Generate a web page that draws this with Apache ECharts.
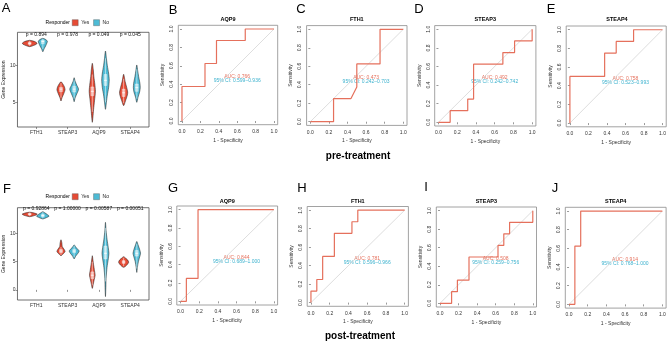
<!DOCTYPE html>
<html>
<head>
<meta charset="utf-8">
<script src="https://cdn.jsdelivr.net/npm/echarts@6/dist/echarts.min.js"></script>
<style>
  html, body { margin: 0; padding: 0; background: #fff; }
  #chart { width: 669px; height: 343px; }
</style>
</head>
<body>
<div id="chart"></div>
<script>
// ---- data ----
const genes = ["FTH1", "STEAP3", "AQP9", "STEAP4"];
const rocGenes = ["AQP9", "FTH1", "STEAP3", "STEAP4"];

// violin outlines per gene: [expression, half width (category units)]
const preYesViolins = [
  [[12.6, 0], [12.75, 0.12], [12.95, 0.22], [13.1, 0.23], [13.3, 0.16], [13.47, 0]],
  [[5.18, 0], [5.6, 0.03], [6.2, 0.09], [6.7, 0.13], [7.1, 0.11], [7.5, 0.06], [7.81, 0]],
  [[2.27, 0], [3.0, 0.02], [4.0, 0.04], [5.2, 0.07], [6.5, 0.1], [7.5, 0.08], [8.5, 0.05], [9.5, 0.03], [10.33, 0]],
  [[4.54, 0], [5.2, 0.06], [6.0, 0.12], [6.4, 0.13], [7.0, 0.1], [7.8, 0.05], [8.83, 0]],
];
const preNoViolins = [
  [[11.9, 0], [12.3, 0.04], [12.7, 0.09], [13.1, 0.13], [13.35, 0.145], [13.55, 0.1], [13.74, 0]],
  [[5.08, 0], [5.6, 0.03], [6.2, 0.09], [6.8, 0.14], [7.3, 0.09], [7.9, 0.03], [8.36, 0]],
  [[4.04, 0], [5.0, 0.03], [6.0, 0.06], [7.0, 0.1], [8.05, 0.12], [9.0, 0.1], [10.0, 0.06], [11.0, 0.03], [12.0, 0]],
  [[5.0, 0], [5.7, 0.04], [6.4, 0.09], [7.0, 0.11], [7.6, 0.1], [8.5, 0.06], [9.3, 0.03], [10.1, 0]],
];
const postYesViolins = [
  [[13.0, 0], [13.2, 0.15], [13.45, 0.24], [13.65, 0.15], [13.8, 0]],
  [[6.07, 0], [6.4, 0.07], [6.8, 0.13], [7.2, 0.1], [7.7, 0.04], [8.3, 0.03], [8.9, 0]],
  [[0.26, 0], [1.0, 0.03], [1.8, 0.06], [2.6, 0.09], [3.4, 0.07], [4.5, 0.04], [5.3, 0.02], [6.07, 0]],
  [[4.0, 0], [4.4, 0.1], [4.9, 0.16], [5.3, 0.13], [5.6, 0.07], [5.9, 0]],
];
const postNoViolins = [
  [[12.6, 0], [12.85, 0.12], [13.1, 0.2], [13.4, 0.14], [13.7, 0.06], [13.9, 0]],
  [[5.5, 0], [6.0, 0.05], [6.5, 0.12], [6.9, 0.16], [7.3, 0.1], [7.7, 0.04], [8.0, 0]],
  [[-1.2, 0], [0, 0.01], [2, 0.02], [4, 0.05], [5.5, 0.09], [6.5, 0.11], [7.5, 0.09], [9, 0.05], [10.5, 0.02], [12.0, 0]],
  [[3.1, 0], [4.0, 0.02], [5.0, 0.05], [6.0, 0.1], [6.5, 0.12], [7.2, 0.09], [8.0, 0.04], [8.6, 0]],
];

// inner boxplots: [q1, median, q3, lower whisker, upper whisker]
const preYesBoxes = [[12.9, 13.05, 13.2, 12.7, 13.4], [6.45, 6.8, 7.05, 5.6, 7.6], [5.9, 6.5, 7.1, 3.7, 8.8], [5.8, 6.3, 6.8, 4.9, 8.2]];
const preNoBoxes = [[13.0, 13.3, 13.5, 12.3, 13.7], [6.4, 6.8, 7.2, 5.5, 8.0], [7.3, 8.0, 8.8, 5.0, 11.0], [6.5, 7.0, 7.5, 5.5, 9.5]];
const postYesBoxes = [[13.3, 13.45, 13.6, 13.1, 13.75], [6.6, 6.9, 7.2, 6.2, 7.6], [2.0, 2.6, 3.2, 0.8, 5.0], [4.7, 4.95, 5.2, 4.2, 5.7]];
const postNoBoxes = [[13.0, 13.2, 13.4, 12.7, 13.8], [6.6, 6.9, 7.2, 5.8, 7.9], [5.5, 6.5, 7.8, 1.5, 11.0], [6.0, 6.5, 7.0, 3.8, 8.2]];

const prePValues = ["p = 0.894", "p = 0.978", "p = 0.049", "p = 0.045"];
const postPValues = ["p = 0.92864", "p = 1.00000", "p = 0.00587", "p = 0.00051"];

// ROC curves: [1 - specificity, sensitivity]
const rocPreAQP9 = [[0, 0], [0, 0.375], [0.25, 0.375], [0.25, 0.625], [0.375, 0.625], [0.375, 0.875], [0.6875, 0.875], [0.6875, 1], [1, 1]];
const rocPreFTH1 = [[0, 0], [0.25, 0], [0.25, 0.25], [0.4375, 0.25], [0.5, 0.375], [0.5, 0.625], [0.75, 0.625], [0.75, 1], [1, 1]];
const rocPreSTEAP3 = [[0, 0], [0.125, 0], [0.125, 0.125], [0.3125, 0.125], [0.3125, 0.25], [0.375, 0.25], [0.375, 0.625], [0.6875, 0.625], [0.6875, 0.75], [0.8125, 0.75], [0.8125, 0.875], [1, 0.875], [1, 1]];
const rocPreSTEAP4 = [[0, 0], [0, 0.5], [0.375, 0.5], [0.375, 0.75], [0.5, 0.75], [0.5, 0.875], [0.6875, 0.875], [0.6875, 1], [1, 1]];
const rocPostAQP9 = [[0, 0], [0.0625, 0], [0.0625, 0.25], [0.1875, 0.25], [0.1875, 1], [1, 1]];
const rocPostFTH1 = [[0, 0], [0, 0.125], [0.0625, 0.125], [0.0625, 0.25], [0.125, 0.25], [0.125, 0.5], [0.25, 0.5], [0.25, 0.75], [0.4375, 0.75], [0.4375, 0.875], [0.5, 0.875], [0.5, 1], [1, 1]];
const rocPostSTEAP3 = [[0, 0], [0.125, 0], [0.125, 0.125], [0.1875, 0.125], [0.1875, 0.25], [0.3125, 0.25], [0.3125, 0.5], [0.625, 0.5], [0.625, 0.625], [0.6875, 0.625], [0.6875, 0.75], [0.75, 0.75], [0.75, 0.875], [1, 0.875], [1, 1]];
const rocPostSTEAP4 = [[0, 0], [0.0625, 0], [0.0625, 0.625], [0.125, 0.625], [0.125, 1], [1, 1]];
const diagonal = [[0, 0], [1, 1]];

const preAUC = ["0.766", "0.473", "0.492", "0.758"];
const preCI = ["0.599–0.936", "0.242–0.703", "0.242–0.742", "0.523–0.993"];
const postAUC = ["0.844", "0.781", "0.508", "0.914"];
const postCI = ["0.689–1.000", "0.596–0.966", "0.259–0.756", "0.768–1.000"];

const rocTicks = [0, 0.2, 0.4, 0.6, 0.8, 1.0];

// ---- layout ----
const FONT = '"Liberation Sans", Arial, sans-serif';
const RED = "#E64B35";
const BLUE = "#4DBBD5";
const ROC_RED = "#E5705C";
const CI_BLUE = "#3DB2CE";

const violinGrids = [
  { left: 17, top: 32.3, width: 132, height: 94.7, yMin: 1.63, yMax: 14.56, yTicks: [5, 10], pOffset: 2 },
  { left: 17, top: 207.7, width: 132, height: 92.3, yMin: -1.8, yMax: 14.6, yTicks: [0, 5, 10], pOffset: 1 },
];
const rocGrids = [
  { left: 178.3, top: 25.3, width: 99.4, height: 99.4 },
  { left: 306.6, top: 25.6, width: 100.4, height: 99.8 },
  { left: 434.7, top: 25.6, width: 101.2, height: 100.4 },
  { left: 566.2, top: 26.0, width: 101.5, height: 100.8 },
  { left: 176.8, top: 206.0, width: 100.8, height: 99 },
  { left: 307.2, top: 206.5, width: 101.2, height: 99.8 },
  { left: 436.3, top: 207.0, width: 100.2, height: 100 },
  { left: 565.3, top: 207.3, width: 100.8, height: 100.8 },
];

const chart = echarts.init(document.getElementById("chart"), null, { renderer: "canvas" });

const grids = [];
const xAxes = [];
const yAxes = [];
const series = [];

function textEl(x, y, text, size, opts = {}) {
  return {
    type: "text", x, y, silent: true,
    style: {
      text, fill: opts.color || "#000",
      font: `${opts.weight || "normal"} ${size}px ${FONT}`,
      align: opts.align || "center", verticalAlign: "middle",
      textAlign: opts.align || "center", textVerticalAlign: "middle",
    },
  };
}

// violin panels
const violinData = [
  { yes: preYesViolins, no: preNoViolins, yesBox: preYesBoxes, noBox: preNoBoxes, p: prePValues },
  { yes: postYesViolins, no: postNoViolins, yesBox: postYesBoxes, noBox: postNoBoxes, p: postPValues },
];

function violinSeries(name, color, shapes, boxes, offset, idx) {
  return {
    type: "custom", name, xAxisIndex: idx, yAxisIndex: idx,
    itemStyle: { color },
    data: shapes.map((s, i) => [i + 1, i]),
    renderItem(params, api) {
      const i = api.value(1);
      const cx = api.value(0) + offset;
      const s = shapes[i];
      const left = s.map((p) => api.coord([cx - p[1], p[0]]));
      const right = s.slice(1, -1).reverse().map((p) => api.coord([cx + p[1], p[0]]));
      const b = boxes[i];
      const bw = 0.045;
      const tl = api.coord([cx - bw, b[2]]);
      const br = api.coord([cx + bw, b[0]]);
      const m1 = api.coord([cx - bw, b[1]]);
      const m2 = api.coord([cx + bw, b[1]]);
      const wl = api.coord([cx, b[3]]);
      const wh = api.coord([cx, b[4]]);
      return {
        type: "group",
        children: [
          { type: "polygon", shape: { points: left.concat(right), smooth: 0.25 }, style: { fill: color, stroke: "#1a1a1a", lineWidth: 0.5 } },
          { type: "line", shape: { x1: wl[0], y1: wl[1], x2: wh[0], y2: wh[1] }, style: { stroke: "rgba(255,255,255,0.85)", lineWidth: 0.6 } },
          { type: "rect", shape: { x: tl[0], y: tl[1], width: br[0] - tl[0], height: br[1] - tl[1] }, style: { fill: "rgba(255,255,255,0.5)", stroke: "rgba(255,255,255,0.9)", lineWidth: 0.4 } },
          { type: "line", shape: { x1: m1[0], y1: m1[1], x2: m2[0], y2: m2[1] }, style: { stroke: "#fff", lineWidth: 0.8 } },
        ],
      };
    },
  };
}

violinGrids.forEach((g, idx) => {
  grids.push({ left: g.left, top: g.top, width: g.width, height: g.height, show: true, borderColor: "#4d4d4d", borderWidth: 0.8, containLabel: false });
  xAxes.push({
    gridIndex: idx, type: "value", min: 0.4, max: 4.6,
    axisLine: { show: false }, splitLine: { show: false },
    axisTick: { show: true, customValues: [1, 2, 3, 4], length: 2, lineStyle: { color: "#4d4d4d", width: 0.6 } },
    axisLabel: { customValues: [1, 2, 3, 4], formatter: (v) => genes[Math.round(v) - 1], fontSize: 5, color: "#333", margin: 3, fontFamily: FONT },
  });
  yAxes.push({
    gridIndex: idx, type: "value", min: g.yMin, max: g.yMax,
    axisLine: { show: false }, splitLine: { show: false },
    axisTick: { show: true, customValues: g.yTicks, length: 2, lineStyle: { color: "#4d4d4d", width: 0.6 } },
    axisLabel: { customValues: g.yTicks, fontSize: 5, color: "#333", margin: 2, fontFamily: FONT },
    name: "Gene Expression", nameLocation: "middle", nameGap: 7,
    nameTextStyle: { fontSize: 5, color: "#222", fontFamily: FONT },
  });
  const d = violinData[idx];
  series.push(violinSeries("Yes", RED, d.yes, d.yesBox, -0.21, idx));
  series.push(violinSeries("No", BLUE, d.no, d.noBox, 0.21, idx));
  series.push({
    type: "custom", xAxisIndex: idx, yAxisIndex: idx, silent: true,
    data: d.p.map((t, i) => [i + 1, i]),
    renderItem(params, api) {
      const pt = api.coord([api.value(0), g.yMax]);
      return { type: "text", x: pt[0], y: pt[1] + g.pOffset, style: { text: d.p[api.value(1)], fill: "#111", font: `5px ${FONT}`, align: "center", verticalAlign: "middle", textAlign: "center", textVerticalAlign: "middle" } };
    },
  });
});

// ROC panels
const rocCurves = [rocPreAQP9, rocPreFTH1, rocPreSTEAP3, rocPreSTEAP4, rocPostAQP9, rocPostFTH1, rocPostSTEAP3, rocPostSTEAP4];
const aucs = preAUC.concat(postAUC);
const cis = preCI.concat(postCI);

rocGrids.forEach((g, k) => {
  const idx = k + 2;
  grids.push({ left: g.left, top: g.top, width: g.width, height: g.height, show: true, borderColor: "#8a8a8a", borderWidth: 0.8 });
  const tickStyle = { show: true, length: 2, lineStyle: { color: "#555", width: 0.6 } };
  xAxes.push({
    gridIndex: idx, type: "value", min: -0.04, max: 1.04,
    axisLine: { show: false }, splitLine: { show: false },
    axisTick: Object.assign({ customValues: rocTicks }, tickStyle),
    axisLabel: { customValues: rocTicks, formatter: (v) => v.toFixed(1), fontSize: 5, color: "#333", margin: 4.5, fontFamily: FONT },
    name: "1 - Specificity", nameLocation: "middle", nameGap: 13,
    nameTextStyle: { fontSize: 5, color: "#333", fontFamily: FONT },
  });
  yAxes.push({
    gridIndex: idx, type: "value", min: -0.04, max: 1.04,
    axisLine: { show: false }, splitLine: { show: false },
    axisTick: Object.assign({ customValues: rocTicks }, tickStyle),
    axisLabel: { customValues: rocTicks, formatter: (v) => v.toFixed(1), fontSize: 5, color: "#333", margin: 4, rotate: 90, fontFamily: FONT },
    name: "Sensitivity", nameLocation: "middle", nameGap: 13,
    nameTextStyle: { fontSize: 5, color: "#333", fontFamily: FONT },
  });
  series.push({ type: "line", xAxisIndex: idx, yAxisIndex: idx, data: diagonal, symbol: "none", silent: true, lineStyle: { color: "#cfcfcf", width: 0.7 } });
  series.push({ type: "line", xAxisIndex: idx, yAxisIndex: idx, data: rocCurves[k], symbol: "none", silent: true, lineStyle: { color: ROC_RED, width: 1.2 } });
  series.push({
    type: "custom", xAxisIndex: idx, yAxisIndex: idx, silent: true,
    data: [[0.6, 0.48, 0], [0.6, 0.435, 1]],
    renderItem(params, api) {
      const pt = api.coord([api.value(0), api.value(1)]);
      const first = api.value(2) === 0;
      return {
        type: "text", x: pt[0], y: pt[1],
        style: {
          text: first ? "AUC: " + aucs[k] : "95% CI: " + cis[k],
          fill: first ? ROC_RED : CI_BLUE, font: `5px ${FONT}`,
          align: "center", verticalAlign: "middle", textAlign: "center", textVerticalAlign: "middle",
        },
      };
    },
  });
});

// free text: panel letters, ROC titles, section labels, legend title
const graphics = [];
const letters = [["A", 6, 8], ["B", 173, 10], ["C", 301, 9], ["D", 419, 9], ["E", 551, 9],
  ["F", 7, 189], ["G", 173, 188], ["H", 302, 188], ["I", 426, 187], ["J", 555, 188]];
letters.forEach(([t, x, y]) => graphics.push(textEl(x, y, t, 13)));
rocGrids.forEach((g, k) => {
  graphics.push(textEl(g.left + g.width / 2, k < 4 ? 19 : 201, rocGenes[k % 4], 5.5, { weight: "bold" }));
});
graphics.push(textEl(358, 156, "pre-treatment", 10, { weight: "bold" }));
graphics.push(textEl(360, 336, "post-treatment", 10, { weight: "bold" }));
graphics.push(textEl(70, 22.5, "Responder", 5, { align: "right" }));
graphics.push(textEl(70, 196.5, "Responder", 5, { align: "right" }));

const legendBase = {
  data: ["Yes", "No"], icon: "rect", itemWidth: 6, itemHeight: 6, itemGap: 4,
  textStyle: { fontSize: 5, color: "#222", fontFamily: FONT, padding: [0, 0, 0, -2] },
  itemStyle: { borderColor: "#555", borderWidth: 0.4 },
  selectedMode: false, padding: 0,
};

chart.setOption({
  animation: false,
  textStyle: { fontFamily: FONT },
  grid: grids,
  xAxis: xAxes,
  yAxis: yAxes,
  legend: [
    Object.assign({ left: 72, top: 19.5 }, legendBase),
    Object.assign({ left: 72, top: 193.5 }, legendBase),
  ],
  graphic: graphics,
  series,
});
</script>
</body>
</html>
